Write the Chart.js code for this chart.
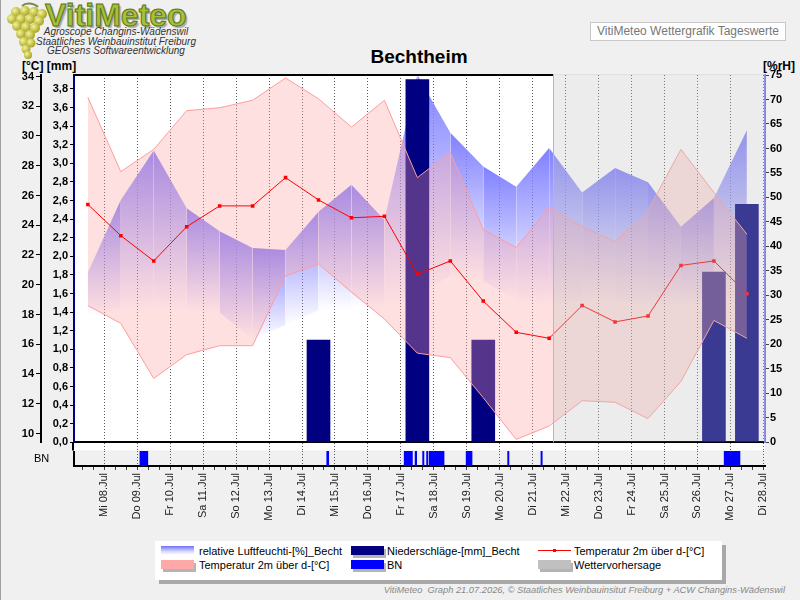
<!DOCTYPE html>
<html lang="de">
<head>
<meta charset="utf-8">
<title>VitiMeteo Bechtheim</title>
<script src="https://cdn.jsdelivr.net/npm/chart.js@4.4.1/dist/chart.umd.min.js"></script>
<style>
  html, body { margin: 0; padding: 0; }
  body {
    width: 800px; height: 600px; position: relative; overflow: hidden;
    background: #f0f0f0;
    font-family: Arial, "Liberation Sans", sans-serif;
  }
  .abs { position: absolute; }
  #edge { left: 0; top: 0; width: 1px; height: 600px; background: #a0a0a0; }
  #logo { left: 45px; top: -2px; font: bold 32px Arial, "Liberation Sans", sans-serif; line-height: 34px;
          color: #a3c23c; -webkit-text-stroke: 1px #5b7418; text-shadow: 2px 2px 1px rgba(0,0,0,0.3); }
  #sub { left: 16px; top: 27px; width: 200px; text-align: center; font: italic 10px Arial, "Liberation Sans", sans-serif;
         line-height: 9.6px; color: #333; white-space: nowrap; }
  #boxTR { left: 590px; top: 22px; width: 194px; height: 17px; background: #fff; border: 1px solid #c8c8c8;
           font-size: 12px; line-height: 17px; color: #777; text-align: center; }
  #title { left: 219px; top: 46px; width: 400px; text-align: center; font: bold 19px Arial, "Liberation Sans", sans-serif; line-height: 22px; }
  .unit { top: 59px; font: bold 12px Arial, "Liberation Sans", sans-serif; line-height: 14px; }
  #bnLabel { left: 34px; top: 452px; font-size: 11px; line-height: 13px; }
  #main { left: 0; top: 0; }
  #bn { left: 0; top: 451px; }
  #legend { left: 155px; top: 541px; width: 567px; height: 39px; background: #fff; box-shadow: 4px 4px 0 #a8a8a8; }
  .sw { position: absolute; width: 33px; height: 9px; box-shadow: 2px 3px 0 #b4b4b4; }
  .lt { position: absolute; font-size: 11px; line-height: 13px; white-space: nowrap; }
  #footer { right: 15px; top: 585px; font: italic 9.3px Arial, "Liberation Sans", sans-serif; color: #888; white-space: nowrap; }
</style>
</head>
<body>
<div id="edge" class="abs"></div>
<svg class="abs" style="left:4px;top:2px" width="44" height="58" viewBox="0 0 44 58">
  <defs>
    <radialGradient id="berry" cx="35%" cy="35%" r="65%">
      <stop offset="0" stop-color="#f4f39a"/>
      <stop offset="1" stop-color="#a9a623"/>
    </radialGradient>
  </defs>
  <path d="M18 4 C 22 0, 30 1, 34 5" stroke="#7b8b4a" stroke-width="2" fill="none"/>
  <g fill="url(#berry)">
    <circle cx="12" cy="10" r="5"/><circle cx="21" cy="9" r="5"/><circle cx="30" cy="10" r="5"/><circle cx="38" cy="12" r="5"/>
    <circle cx="8" cy="17" r="5"/><circle cx="17" cy="17" r="5"/><circle cx="26" cy="17" r="5"/><circle cx="35" cy="19" r="5"/>
    <circle cx="13" cy="24" r="5"/><circle cx="22" cy="25" r="5"/><circle cx="31" cy="26" r="5"/>
    <circle cx="17" cy="32" r="5"/><circle cx="26" cy="33" r="5"/>
    <circle cx="20" cy="40" r="5"/><circle cx="27" cy="41" r="4.5"/>
    <circle cx="22" cy="47" r="4.5"/><circle cx="24" cy="53" r="4"/>
  </g>
</svg>
<div id="logo" class="abs">VitiMeteo</div>
<div id="sub" class="abs">Agroscope Changins-Wädenswil<br>Staatliches Weinbauinstitut Freiburg<br>GEOsens Softwareentwicklung</div>
<div id="boxTR" class="abs">VitiMeteo Wettergrafik Tageswerte</div>
<div id="title" class="abs">Bechtheim</div>
<div class="abs unit" style="left:22px">[°C] [mm]</div>
<div class="abs unit" style="left:763px">[%rH]</div>

<canvas id="main" class="abs" width="800" height="451"></canvas>
<canvas id="bn" class="abs" width="800" height="75"></canvas>
<div id="bnLabel" class="abs">BN</div>

<div id="legend" class="abs">
  <div class="sw" style="left:6px;top:5px;box-shadow:none;background:linear-gradient(to bottom,#7070ff 0,#9c9cff 25%,#d8d8ff 60%,#fff 100%)"></div>
  <div class="lt" style="left:44px;top:4px">relative Luftfeuchti-[%]_Becht</div>
  <div class="sw" style="left:6px;top:19px;background:#ffa8a8"></div>
  <div class="lt" style="left:44px;top:18px">Temperatur 2m über d-[°C]</div>
  <div class="sw" style="left:196px;top:5px;background:#000080"></div>
  <div class="lt" style="left:232px;top:4px">Niederschläge-[mm]_Becht</div>
  <div class="sw" style="left:196px;top:19px;background:#0000ff"></div>
  <div class="lt" style="left:232px;top:18px">BN</div>
  <div class="sw" style="left:383px;top:9px;height:1px;background:#ff0000;box-shadow:none"></div>
  <div class="sw" style="left:398px;top:8px;width:3px;height:3px;background:#ff0000;box-shadow:none"></div>
  <div class="lt" style="left:419px;top:4px">Temperatur 2m über d-[°C]</div>
  <div class="sw" style="left:383px;top:19px;background:#c0c0c0"></div>
  <div class="lt" style="left:419px;top:18px">Wettervorhersage</div>
</div>
<div id="footer" class="abs">VitiMeteo&nbsp; Graph 21.07.2026, © Staatliches Weinbauinsitut Freiburg + ACW Changins-Wädenswil</div>

<script>
// --- Data ---
// x values are days of July, noon = .5
const dayLabels = ['Mi 08.Jul', 'Do 09.Jul', 'Fr 10.Jul', 'Sa 11.Jul', 'So 12.Jul', 'Mo 13.Jul', 'Di 14.Jul',
    'Mi 15.Jul', 'Do 16.Jul', 'Fr 17.Jul', 'Sa 18.Jul', 'So 19.Jul', 'Mo 20.Jul', 'Di 21.Jul',
    'Mi 22.Jul', 'Do 23.Jul', 'Fr 24.Jul', 'Sa 25.Jul', 'So 26.Jul', 'Mo 27.Jul', 'Di 28.Jul'];
const firstLabelDay = 8;
const xMin = 7.08;
const xMax = 28.05;
const forecastStart = 21.62;

const dayPos = [7.5, 8.5, 9.5, 10.5, 11.5, 12.5, 13.5, 14.5, 15.5, 16.5, 17.5,
    18.5, 19.5, 20.5, 21.5, 22.5, 23.5, 24.5, 25.5, 26.5, 27.5];

const tempMean = [25.4, 23.3, 21.6, 23.9, 25.3, 25.3, 27.2, 25.7, 24.5, 24.6, 20.7,
    21.6, 18.9, 16.8, 16.4, 18.6, 17.5, 17.9, 21.3, 21.6, 19.4];
const tempMax = [32.6, 27.6, 29.1, 31.7, 31.9, 32.4, 33.9, 32.5, 30.6, 32.4, 27.2,
    28.9, 23.7, 22.5, 25.2, 23.9, 22.9, 25.0, 29.1, 26.2, 23.4];
const tempMin = [18.6, 17.4, 13.7, 15.3, 15.9, 15.9, 20.6, 21.4, 19.5, 17.7, 15.4,
    15.1, 12.4, 9.6, 10.5, 12.2, 12.1, 11.0, 13.5, 17.6, 16.4];

const rhMax = [34.7, 49.5, 59.6, 47.8, 43.1, 39.7, 39.3, 47.1, 52.6, 45.4, 75,
    63.2, 56.3, 52.2, 60.1, 51.0, 56.0, 53.1, 44.0, 49.9, 63.7];
const rhMin = [26, 27, 27, 27, 26.5, 21, 24, 27, 27.5, 28, 30,
    34, 33, 29, 28, 29, 29, 28, 28, 29, 30];

const precipDays = [14.5, 17.5, 19.5, 26.5, 27.5];
const precipMm = [1.1, 3.9, 1.1, 1.83, 2.56];

// leaf wetness (BN) intervals
const bnStart = [9.08, 14.75, 17.10, 17.43, 17.66, 17.78, 17.86, 18.98, 20.24, 21.25, 26.81];
const bnEnd = [9.32, 14.81, 17.35, 17.48, 17.70, 17.82, 18.31, 19.16, 20.28, 21.29, 27.29];

// --- helpers ---
const pts = (vals) => dayPos.map((d, i) => ({ x: d, y: vals[i] }));
const tickFont = { family: 'Arial, "Liberation Sans", sans-serif', size: 11, weight: 'bold' };

// each humidity segment gets its own gradient, fading out towards the minimum
const rhSegmentFill = (ctx) => {
    const chart = ctx.chart;
    const yScale = chart.scales.yRH;
    const top = Math.min(ctx.p0.y, ctx.p1.y);
    const bottom = Math.max(yScale.getPixelForValue(rhMin[ctx.p0DataIndex]),
                            yScale.getPixelForValue(rhMin[ctx.p1DataIndex]));
    const g = chart.ctx.createLinearGradient(0, top, 0, Math.max(bottom, top + 1));
    g.addColorStop(0, 'rgba(128,128,255,1)');
    g.addColorStop(1, 'rgba(128,128,255,0)');
    return g;
};

const mainDecor = {
    id: 'mainDecor',
    beforeDraw(chart) {
        const { ctx, chartArea: a } = chart;
        ctx.save();
        ctx.fillStyle = '#fff';
        ctx.fillRect(a.left, a.top, a.right - a.left, a.bottom - a.top + 8);
        ctx.restore();
    },
    afterDatasetsDraw(chart) {
        const { ctx, chartArea: a } = chart;
        const x0 = chart.scales.x.getPixelForValue(forecastStart);
        ctx.save();
        ctx.fillStyle = 'rgba(192,192,192,0.3)';
        ctx.fillRect(x0, a.top - 1, a.right - x0, a.bottom - a.top);
        ctx.restore();
    },
    afterDraw(chart) {
        const { ctx, chartArea: a } = chart;
        const x0 = chart.scales.x.getPixelForValue(forecastStart);
        ctx.save();
        ctx.strokeStyle = '#000';
        ctx.lineWidth = 2;
        ctx.beginPath();
        ctx.moveTo(a.left, a.top);
        ctx.lineTo(x0, a.top);
        ctx.moveTo(a.left - 1, a.bottom);
        ctx.lineTo(a.left - 1, a.bottom + 8);
        ctx.stroke();
        ctx.strokeStyle = '#b8b8b8';
        ctx.lineWidth = 1;
        ctx.beginPath();
        ctx.moveTo(Math.round(x0) + 0.5, a.top - 1);
        ctx.lineTo(Math.round(x0) + 0.5, a.bottom);
        ctx.stroke();
        ctx.restore();
    }
};

new Chart(document.getElementById('main'), {
    type: 'line',
    data: {
        datasets: [
            {
                label: 'Temperatur 2m über d-[°C]',
                data: pts(tempMean),
                yAxisID: 'yTemp',
                borderColor: '#ff0000',
                backgroundColor: '#ff0000',
                borderWidth: 1,
                pointStyle: 'rect',
                pointRadius: 2.5,
                pointBorderWidth: 0,
                fill: false,
                order: 0
            },
            {
                label: 'Temperatur max',
                data: pts(tempMax),
                yAxisID: 'yTemp',
                borderColor: '#ff9c9c',
                backgroundColor: 'rgba(255,160,160,0.33)',
                borderWidth: 1,
                pointRadius: 0,
                fill: '+1',
                order: 1
            },
            {
                label: 'Temperatur min',
                data: pts(tempMin),
                yAxisID: 'yTemp',
                borderColor: '#ff9c9c',
                borderWidth: 1,
                pointRadius: 0,
                fill: false,
                order: 1
            },
            {
                type: 'bar',
                label: 'Niederschläge-[mm]_Becht',
                data: precipDays.map((d, i) => ({ x: d, y: precipMm[i] })),
                yAxisID: 'yMM',
                backgroundColor: '#000080',
                borderWidth: 0,
                barThickness: 23,
                order: 2
            },
            {
                label: 'relative Luftfeuchti-[%]_Becht',
                data: pts(rhMax),
                yAxisID: 'yRH',
                borderWidth: 0,
                borderColor: 'rgba(0,0,0,0)',
                backgroundColor: 'rgba(128,128,255,0.5)',
                pointRadius: 0,
                fill: '+1',
                segment: { backgroundColor: rhSegmentFill },
                order: 3
            },
            {
                label: 'rH min',
                data: pts(rhMin),
                yAxisID: 'yRH',
                borderWidth: 0,
                borderColor: 'rgba(0,0,0,0)',
                pointRadius: 0,
                fill: false,
                order: 3
            }
        ]
    },
    options: {
        responsive: false,
        animation: false,
        events: [],
        layout: { padding: { top: 75, left: 0, right: 5, bottom: 0 } },
        plugins: {
            legend: { display: false },
            tooltip: { enabled: false }
        },
        scales: {
            x: {
                type: 'linear',
                min: xMin,
                max: xMax,
                offset: false,
                z: 1,
                ticks: { display: false, stepSize: 1, includeBounds: false },
                grid: { offset: false, color: '#5a5a5a', tickLength: 8, tickBorderDash: [1, 2], tickColor: '#5a5a5a' },
                border: { color: '#000', width: 2, dash: [1, 2] },
                afterFit: (s) => { s.height = 8; }
            },
            yTemp: {
                type: 'linear',
                position: 'left',
                weight: 1,
                min: 9.4,
                max: 34.1,
                ticks: { stepSize: 1, includeBounds: false, color: '#000', font: tickFont, padding: 2 },
                grid: { drawOnChartArea: false, color: '#000', tickLength: 5 },
                border: { color: '#000', width: 2 },
                afterFit: (s) => { s.width = 41; }
            },
            yMM: {
                type: 'linear',
                position: 'left',
                weight: 0,
                min: 0,
                max: 3.95,
                ticks: {
                    stepSize: 0.2, includeBounds: false, color: '#000', font: tickFont, padding: 2,
                    callback: (v) => v.toFixed(1).replace('.', ',')
                },
                grid: { drawOnChartArea: false, color: '#000', tickLength: 4 },
                border: { color: '#000080', width: 2 },
                afterFit: (s) => { s.width = 33; }
            },
            yRH: {
                type: 'linear',
                position: 'right',
                min: 0,
                max: 75,
                ticks: { stepSize: 5, color: '#000', font: tickFont, padding: 1 },
                grid: { drawOnChartArea: false, color: '#404040', tickLength: 4 },
                border: { color: '#8080ff', width: 2 },
                afterFit: (s) => { s.width = 30; }
            }
        }
    },
    plugins: [mainDecor]
});

// --- BN strip with the date axis ---
const bnDecor = {
    id: 'bnDecor',
    beforeDraw(chart) {
        const { ctx, chartArea: a } = chart;
        ctx.save();
        ctx.fillStyle = '#f0f0f0';
        ctx.fillRect(a.left, a.top, a.right - a.left, a.bottom - a.top);
        ctx.restore();
    }
};

const isWholeDay = (v) => Math.abs(v - Math.round(v)) < 0.01;

new Chart(document.getElementById('bn'), {
    type: 'bar',
    data: {
        labels: ['BN'],
        datasets: [{
            label: 'BN',
            data: bnStart.map((s, i) => ({ x: [s, bnEnd[i]], y: 'BN' })),
            backgroundColor: '#0000ff',
            borderWidth: 0,
            barPercentage: 1,
            categoryPercentage: 1
        }]
    },
    options: {
        indexAxis: 'y',
        responsive: false,
        animation: false,
        events: [],
        layout: { padding: { top: 0, left: 0, right: 35, bottom: 0 } },
        plugins: {
            legend: { display: false },
            tooltip: { enabled: false }
        },
        scales: {
            x: {
                type: 'linear',
                min: xMin,
                max: xMax,
                offset: false,
                z: 1,
                ticks: {
                    stepSize: 1 / 3,
                    includeBounds: false,
                    autoSkip: false,
                    minRotation: 90,
                    maxRotation: 90,
                    padding: 3,
                    color: '#222',
                    font: { family: 'Arial, "Liberation Sans", sans-serif', size: 11 },
                    callback: (v) => isWholeDay(v) ? (dayLabels[Math.round(v) - firstLabelDay] || '') : ''
                },
                grid: {
                    offset: false,
                    color: (c) => (c.tick && isWholeDay(c.tick.value)) ? '#5a5a5a' : 'rgba(0,0,0,0)',
                    tickColor: '#404040',
                    tickLength: 4
                },
                border: { color: '#000', width: 2, dash: [1, 2] },
                afterFit: (s) => { s.height = 60; }
            },
            y: {
                type: 'category',
                ticks: { display: false },
                grid: { display: false },
                border: { color: '#000', width: 2 },
                afterFit: (s) => { s.width = 74; }
            }
        }
    },
    plugins: [bnDecor]
});
</script>
</body>
</html>
